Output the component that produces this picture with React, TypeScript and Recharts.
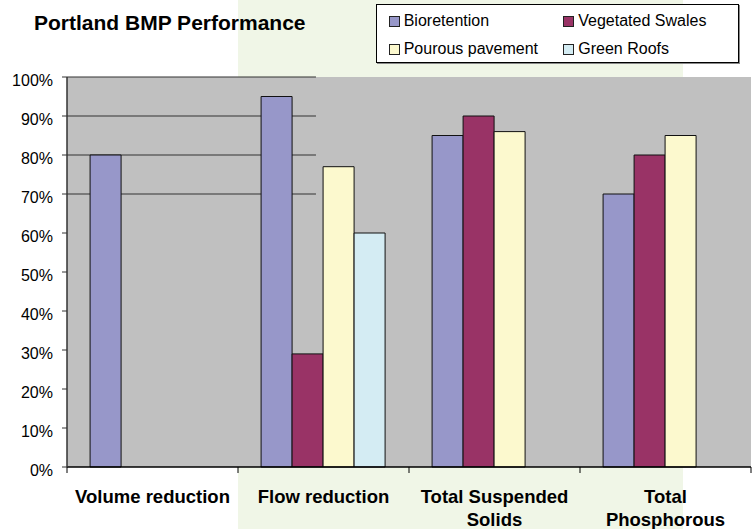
import React from "react";
import { BarChart, Bar, XAxis, YAxis, CartesianGrid } from "recharts";

const categories = ["Volume reduction", "Flow reduction", "Total Suspended Solids", "Total Phosphorous"];
const categoryLines = [["Volume reduction"], ["Flow reduction"], ["Total Suspended", "Solids"], ["Total", "Phosphorous"]];
const bioretention = [0.8, 0.95, 0.85, 0.7];
const vegetatedSwales = [null, 0.29, 0.9, 0.8];
const porousPavement = [null, 0.77, 0.86, 0.85];
const greenRoofs = [null, 0.6, null, null];
const yTicks = [0, 0.1, 0.2, 0.3, 0.4, 0.5, 0.6, 0.7, 0.8, 0.9, 1.0];

const series = [
  { key: "bio", name: "Bioretention", color: "#9797C9", values: bioretention },
  { key: "veg", name: "Vegetated Swales", color: "#993366", values: vegetatedSwales },
  { key: "pav", name: "Pourous pavement", color: "#FCF9CE", values: porousPavement },
  { key: "roof", name: "Green Roofs", color: "#D4ECF3", values: greenRoofs },
];

const data = categories.map((c, i) => {
  const row: any = { category: c, idx: i };
  series.forEach((s) => (row[s.key] = s.values[i]));
  return row;
});

const FONT = "'Liberation Sans', Arial, sans-serif";

const XTick = (props: any) => {
  const { x, y, payload, index, visibleTicksCount } = props;
  const half = payload && typeof payload.offset === "number" && payload.offset > 0 ? payload.offset : 85.5;
  const lines = categoryLines[index] || [String(payload.value)];
  return (
    <g>
      <line x1={x - half} y1={y} x2={x - half} y2={y + 6} stroke="#000" />
      {index === visibleTicksCount - 1 && (
        <line x1={x + half} y1={y} x2={x + half} y2={y + 6} stroke="#000" />
      )}
      {lines.map((l: string, i: number) => (
        <text
          key={i}
          x={x}
          y={y + 36 + i * 23}
          textAnchor="middle"
          fontFamily={FONT}
          fontWeight="bold"
          fontSize={18.5}
          fill="#000"
        >
          {l}
        </text>
      ))}
    </g>
  );
};

const gridLine = (p: any) => {
  const top = typeof p.y === "number" ? p.y : 77;
  const h = typeof p.height === "number" ? p.height : 390;
  const frac = (p.y1 - top) / h;
  if (frac > 0.31) return <g key={p.key} />;
  const w = p.x2 - p.x1;
  return <line key={p.key} x1={p.x1} y1={p.y1} x2={p.x1 + w * 0.364} y2={p.y1} stroke="#333" strokeWidth={1.2} />;
};

export default function App() {
  return (
    <div style={{ position: "absolute", left: 0, top: 0, width: 755, height: 529, background: "#fff", overflow: "hidden" }}>
      <div style={{ position: "absolute", left: 238, top: 0, width: 445, height: 529, background: "#F0F6E7" }} />
      <div style={{ position: "absolute", left: 0, top: 0 }}>
        <BarChart
          width={755}
          height={529}
          data={data}
          margin={{ top: 77, right: 4, bottom: 0, left: 7 }}
          barCategoryGap="13.5%"
          barGap={0}
        >
          <CartesianGrid vertical={false} horizontal={gridLine} fill="#C0C0C0" fillOpacity={1} />
          <XAxis
            dataKey="category"
            interval={0}
            tickLine={false}
            tickSize={0}
            tickMargin={0}
            height={62}
            axisLine={{ stroke: "#000", strokeWidth: 1.5 }}
            tick={<XTick />}
          />
          <YAxis
            width={60}
            domain={[0, 1]}
            ticks={yTicks}
            interval={0}
            tickFormatter={(v: number) => `${Math.round(v * 100)}%`}
            tick={{ fontFamily: FONT, fontSize: 16, fill: "#000", dy: 3 }}
            tickSize={5}
            tickMargin={9}
            axisLine={{ stroke: "#333", strokeWidth: 1.5 }}
            tickLine={{ stroke: "#333" }}
          />
          {series.map((s) => (
            <Bar key={s.key} dataKey={s.key} name={s.name} fill={s.color} stroke="#111" strokeWidth={1} isAnimationActive={false} />
          ))}
        </BarChart>
      </div>
      <div
        style={{
          position: "absolute",
          left: 34,
          top: 12,
          fontFamily: FONT,
          fontWeight: "bold",
          fontSize: 21,
          lineHeight: "21px",
          color: "#000",
          whiteSpace: "nowrap",
        }}
      >
        Portland BMP Performance
      </div>
      <div
        style={{
          position: "absolute",
          left: 376,
          top: 4,
          width: 349,
          height: 55,
          border: "1px solid #000",
          boxShadow: "1px 1px 0 #888",
          background: "#fff",
          boxSizing: "content-box",
          display: "grid",
          gridTemplateColumns: "174.6px auto",
          gridAutoRows: "28px",
          paddingTop: 2,
          paddingLeft: 11.7,
          fontFamily: FONT,
          fontSize: 16,
          color: "#000",
        }}
      >
        {series.map((s) => (
          <div key={s.key} style={{ display: "flex", alignItems: "center", whiteSpace: "nowrap", lineHeight: "28px" }}>
            <span
              style={{
                display: "inline-block",
                width: 9,
                height: 9,
                border: "1px solid #222",
                background: s.color,
                marginRight: 4,
              }}
            />
            {s.name}
          </div>
        ))}
      </div>
    </div>
  );
}
